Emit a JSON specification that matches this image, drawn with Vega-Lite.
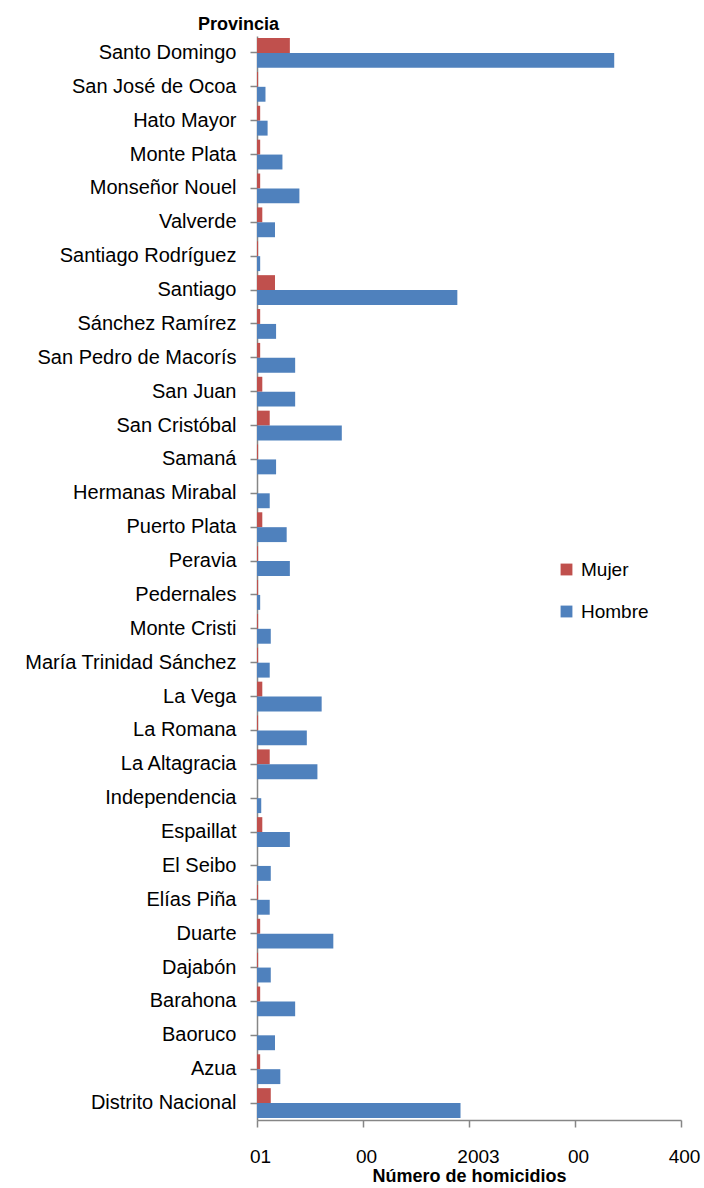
{
  "$schema": "https://vega.github.io/schema/vega-lite/v6.json",
  "autosize": "none",
  "width": 424,
  "height": 1084,
  "padding": {"left": 257, "top": 36, "right": 23, "bottom": 68},
  "background": "white",
  "config": {"view": {"stroke": null}, "font": "Liberation Sans"},
  "data": {"values": [
    {"Provincia": "Santo Domingo", "Sexo": "Mujer", "Homicidios": 31},
    {"Provincia": "Santo Domingo", "Sexo": "Hombre", "Homicidios": 337},
    {"Provincia": "San José de Ocoa", "Sexo": "Mujer", "Homicidios": 1},
    {"Provincia": "San José de Ocoa", "Sexo": "Hombre", "Homicidios": 8},
    {"Provincia": "Hato Mayor", "Sexo": "Mujer", "Homicidios": 3},
    {"Provincia": "Hato Mayor", "Sexo": "Hombre", "Homicidios": 10},
    {"Provincia": "Monte Plata", "Sexo": "Mujer", "Homicidios": 3},
    {"Provincia": "Monte Plata", "Sexo": "Hombre", "Homicidios": 24},
    {"Provincia": "Monseñor Nouel", "Sexo": "Mujer", "Homicidios": 3},
    {"Provincia": "Monseñor Nouel", "Sexo": "Hombre", "Homicidios": 40},
    {"Provincia": "Valverde", "Sexo": "Mujer", "Homicidios": 5},
    {"Provincia": "Valverde", "Sexo": "Hombre", "Homicidios": 17},
    {"Provincia": "Santiago Rodríguez", "Sexo": "Mujer", "Homicidios": 1},
    {"Provincia": "Santiago Rodríguez", "Sexo": "Hombre", "Homicidios": 3},
    {"Provincia": "Santiago", "Sexo": "Mujer", "Homicidios": 17},
    {"Provincia": "Santiago", "Sexo": "Hombre", "Homicidios": 189},
    {"Provincia": "Sánchez Ramírez", "Sexo": "Mujer", "Homicidios": 3},
    {"Provincia": "Sánchez Ramírez", "Sexo": "Hombre", "Homicidios": 18},
    {"Provincia": "San Pedro de Macorís", "Sexo": "Mujer", "Homicidios": 3},
    {"Provincia": "San Pedro de Macorís", "Sexo": "Hombre", "Homicidios": 36},
    {"Provincia": "San Juan", "Sexo": "Mujer", "Homicidios": 5},
    {"Provincia": "San Juan", "Sexo": "Hombre", "Homicidios": 36},
    {"Provincia": "San Cristóbal", "Sexo": "Mujer", "Homicidios": 12},
    {"Provincia": "San Cristóbal", "Sexo": "Hombre", "Homicidios": 80},
    {"Provincia": "Samaná", "Sexo": "Mujer", "Homicidios": 1},
    {"Provincia": "Samaná", "Sexo": "Hombre", "Homicidios": 18},
    {"Provincia": "Hermanas Mirabal", "Sexo": "Mujer", "Homicidios": 0},
    {"Provincia": "Hermanas Mirabal", "Sexo": "Hombre", "Homicidios": 12},
    {"Provincia": "Puerto Plata", "Sexo": "Mujer", "Homicidios": 5},
    {"Provincia": "Puerto Plata", "Sexo": "Hombre", "Homicidios": 28},
    {"Provincia": "Peravia", "Sexo": "Mujer", "Homicidios": 1},
    {"Provincia": "Peravia", "Sexo": "Hombre", "Homicidios": 31},
    {"Provincia": "Pedernales", "Sexo": "Mujer", "Homicidios": 1},
    {"Provincia": "Pedernales", "Sexo": "Hombre", "Homicidios": 3},
    {"Provincia": "Monte Cristi", "Sexo": "Mujer", "Homicidios": 1},
    {"Provincia": "Monte Cristi", "Sexo": "Hombre", "Homicidios": 13},
    {"Provincia": "María Trinidad Sánchez", "Sexo": "Mujer", "Homicidios": 1},
    {"Provincia": "María Trinidad Sánchez", "Sexo": "Hombre", "Homicidios": 12},
    {"Provincia": "La Vega", "Sexo": "Mujer", "Homicidios": 5},
    {"Provincia": "La Vega", "Sexo": "Hombre", "Homicidios": 61},
    {"Provincia": "La Romana", "Sexo": "Mujer", "Homicidios": 1},
    {"Provincia": "La Romana", "Sexo": "Hombre", "Homicidios": 47},
    {"Provincia": "La Altagracia", "Sexo": "Mujer", "Homicidios": 12},
    {"Provincia": "La Altagracia", "Sexo": "Hombre", "Homicidios": 57},
    {"Provincia": "Independencia", "Sexo": "Mujer", "Homicidios": 0},
    {"Provincia": "Independencia", "Sexo": "Hombre", "Homicidios": 4},
    {"Provincia": "Espaillat", "Sexo": "Mujer", "Homicidios": 5},
    {"Provincia": "Espaillat", "Sexo": "Hombre", "Homicidios": 31},
    {"Provincia": "El Seibo", "Sexo": "Mujer", "Homicidios": 0},
    {"Provincia": "El Seibo", "Sexo": "Hombre", "Homicidios": 13},
    {"Provincia": "Elías Piña", "Sexo": "Mujer", "Homicidios": 1},
    {"Provincia": "Elías Piña", "Sexo": "Hombre", "Homicidios": 12},
    {"Provincia": "Duarte", "Sexo": "Mujer", "Homicidios": 3},
    {"Provincia": "Duarte", "Sexo": "Hombre", "Homicidios": 72},
    {"Provincia": "Dajabón", "Sexo": "Mujer", "Homicidios": 1},
    {"Provincia": "Dajabón", "Sexo": "Hombre", "Homicidios": 13},
    {"Provincia": "Barahona", "Sexo": "Mujer", "Homicidios": 3},
    {"Provincia": "Barahona", "Sexo": "Hombre", "Homicidios": 36},
    {"Provincia": "Baoruco", "Sexo": "Mujer", "Homicidios": 0},
    {"Provincia": "Baoruco", "Sexo": "Hombre", "Homicidios": 17},
    {"Provincia": "Azua", "Sexo": "Mujer", "Homicidios": 3},
    {"Provincia": "Azua", "Sexo": "Hombre", "Homicidios": 22},
    {"Provincia": "Distrito Nacional", "Sexo": "Mujer", "Homicidios": 13},
    {"Provincia": "Distrito Nacional", "Sexo": "Hombre", "Homicidios": 192}
  ]},
  "mark": {"type": "bar"},
  "encoding": {
    "y": {
      "field": "Provincia", "type": "nominal", "sort": null,
      "scale": {"paddingInner": 0.12, "paddingOuter": 0.06},
      "axis": {
        "title": "Provincia", "titleAngle": 0, "titleAlign": "center",
        "titleBaseline": "alphabetic", "titleX": -19, "titleY": -7,
        "titleFont": "Liberation Sans", "titleFontSize": 18, "titleFontWeight": "bold", "titleColor": "#000000",
        "labelFont": "Liberation Sans", "labelFontSize": 20, "labelColor": "#000000",
        "labelPadding": 14, "labelLimit": 300,
        "domainColor": "#868686", "tickColor": "#868686", "tickSize": 7, "domainWidth": 1.5, "tickWidth": 1.5
      }
    },
    "yOffset": {"field": "Sexo", "type": "nominal", "sort": ["Mujer", "Hombre"], "scale": {"paddingInner": 0, "paddingOuter": 0}},
    "x": {
      "field": "Homicidios", "type": "quantitative",
      "scale": {"domain": [0, 400], "nice": false},
      "axis": {
        "title": "Número de homicidios", "titleFont": "Liberation Sans", "titleFontSize": 18, "titleFontWeight": "bold",
        "titleColor": "#000000", "titlePadding": 1,
        "values": [0, 100, 200, 300, 400], "grid": false,
        "labelExpr": "datum.value == 0 ? '01' : datum.value == 200 ? '2003' : datum.value == 400 ? '400' : '00'",
        "labelOffset": {"condition": {"test": "datum.value == 200", "value": 9}, "value": 3},
        "labelFont": "Liberation Sans", "labelFontSize": 19, "labelColor": "#000000",
        "labelPadding": 20, "labelFlush": false, "labelOverlap": false,
        "domainColor": "#868686", "tickColor": "#868686", "tickSize": 7, "domainWidth": 1.5, "tickWidth": 1.5
      }
    },
    "color": {
      "field": "Sexo", "type": "nominal",
      "scale": {"domain": ["Mujer", "Hombre"], "range": ["#C0504D", "#4F81BD"]},
      "legend": {
        "title": null, "orient": "none", "legendX": 300, "legendY": 524,
        "symbolType": "square", "symbolSize": 140, "symbolStrokeWidth": 0,
        "labelFont": "Liberation Sans", "labelFontSize": 19, "labelColor": "#000000",
        "rowPadding": 22, "labelOffset": 5
      }
    }
  }
}
